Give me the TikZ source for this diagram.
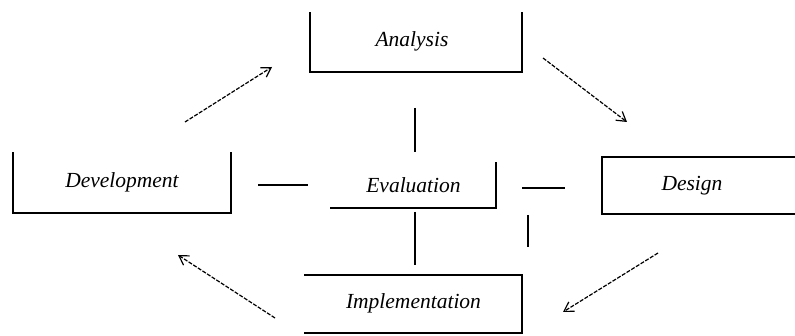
\documentclass[tikz,border=0pt]{standalone}
\usepackage{fontspec}
\setmainfont{Liberation Serif}
\usetikzlibrary{arrows.meta}
\begin{document}
\begin{tikzpicture}[x=1pt,y=-1pt,
  stage/.style={inner sep=0pt,outer sep=0pt,
    font=\fontsize{21.5}{24}\selectfont\itshape},
  edge/.style={line width=1.4pt,line cap=rect},
  bar/.style={line width=1.3pt},
  flow/.style={line width=1.2pt,dash pattern=on 4pt off 1.5pt,
    -{Straight Barb[length=9pt,width=11pt,line width=1.2pt]}}]
\useasboundingbox (0,0) rectangle (795,336);

% stage boxes (each drawn with some sides left open)
\node[stage,minimum width=212pt,minimum height=59pt] (ana) at (416,42.5) {\hspace*{-8pt}\raisebox{6pt}{Analysis}};
\node[stage,minimum width=218pt,minimum height=60pt] (dev) at (122,183) {\raisebox{5pt}{Development}};
\node[stage,minimum width=165pt,minimum height=45pt] (eva) at (413.5,185.5) {Evaluation};
\node[stage,minimum width=196pt,minimum height=57pt] (des) at (700,185.5) {\hspace*{-16pt}\raisebox{2pt}{Design}};
\node[stage,minimum width=217pt,minimum height=58pt] (imp) at (413.5,304) {\raisebox{5pt}{Implementation}};

\draw[edge] (ana.north west) -- (ana.south west) -- (ana.south east) -- (ana.north east);
\draw[edge] (dev.north west) -- (dev.south west) -- (dev.south east) -- (dev.north east);
\draw[edge] (eva.south west) -- (eva.south east) -- (eva.north east);
\draw[edge] (des.north east) -- (des.north west) -- (des.south west) -- (des.south east);
\draw[edge] (imp.north west) -- (imp.north east) -- (imp.south east) -- (imp.south west);

% short strokes around the evaluation box
\coordinate (t1) at (415,108); \coordinate (t2) at (415,152);
\coordinate (b1) at (415,212); \coordinate (b2) at (415,265);
\coordinate (l1) at (258,185); \coordinate (l2) at (308,185);
\coordinate (r1) at (522,188); \coordinate (r2) at (565,188);
\coordinate (s1) at (528,215); \coordinate (s2) at (528,247);
\draw[bar] (t1) -- (t2);
\draw[bar] (b1) -- (b2);
\draw[bar] (l1) -- (l2);
\draw[bar] (r1) -- (r2);
\draw[bar] (s1) -- (s2);

% cycle arrows
\coordinate (da) at (185,122); \coordinate (ad) at (272,67);
\coordinate (ae) at (543,58);  \coordinate (ea) at (627,122);
\coordinate (ei) at (658,253); \coordinate (ie) at (563,312);
\coordinate (iv) at (275,318); \coordinate (vi) at (178,255);
\draw[flow] (da) -- (ad);
\draw[flow] (ae) -- (ea);
\draw[flow] (ei) -- (ie);
\draw[flow] (iv) -- (vi);
\end{tikzpicture}
\end{document}
